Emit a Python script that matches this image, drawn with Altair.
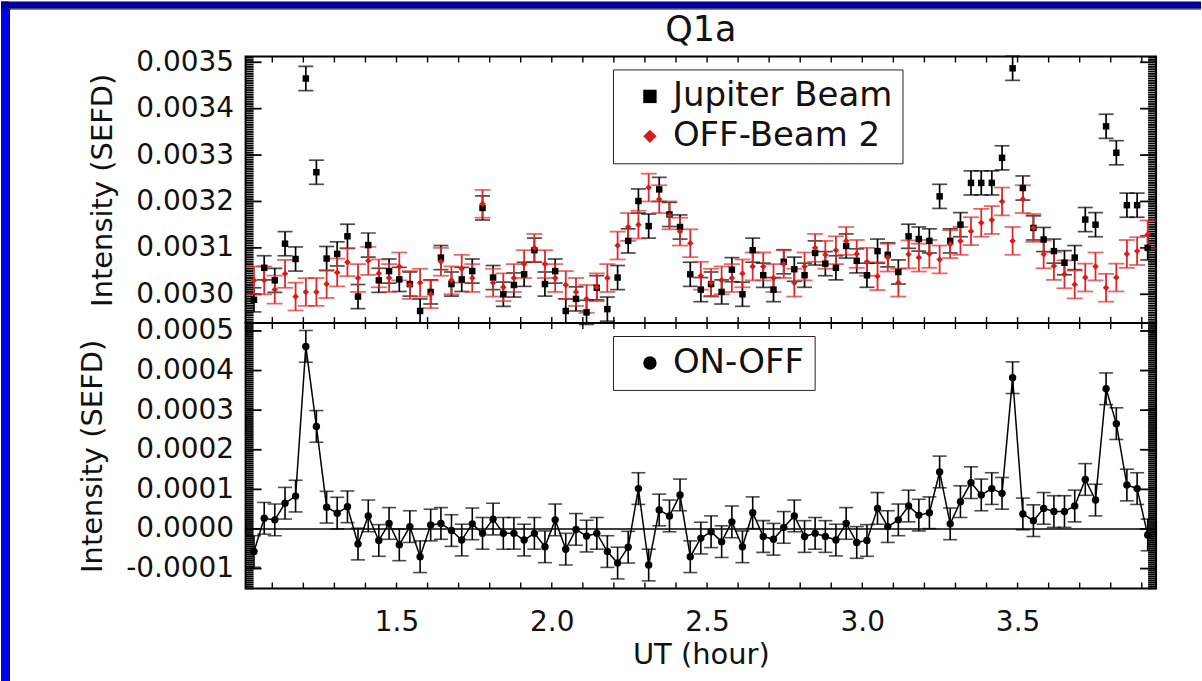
import altair as alt
import pandas as pd

# ---------------- data ----------------
ut_hour = [1.041, 1.074, 1.108, 1.141, 1.175, 1.208, 1.242, 1.275, 1.309, 1.342,
           1.376, 1.409, 1.443, 1.476, 1.509, 1.543, 1.576, 1.610, 1.643, 1.677,
           1.710, 1.744, 1.777, 1.811, 1.844, 1.878, 1.911, 1.944, 1.978, 2.011,
           2.045, 2.078, 2.112, 2.145, 2.179, 2.212, 2.246, 2.279, 2.312, 2.346,
           2.379, 2.413, 2.446, 2.480, 2.513, 2.547, 2.580, 2.614, 2.647, 2.681,
           2.714, 2.747, 2.781, 2.814, 2.848, 2.881, 2.915, 2.948, 2.982, 3.015,
           3.049, 3.082, 3.116, 3.149, 3.182, 3.216, 3.249, 3.283, 3.316, 3.350,
           3.383, 3.417, 3.450, 3.484, 3.517, 3.551, 3.584, 3.617, 3.651, 3.684,
           3.718, 3.751, 3.785, 3.818, 3.852, 3.885, 3.919]

jupiter_beam = [0.002988, 0.003057, 0.003030, 0.003109, 0.003076, 0.003465, 0.003263, 0.003077, 0.003087, 0.003125,
                0.002995, 0.003106, 0.003030, 0.003050, 0.003032, 0.003022, 0.002964, 0.003005, 0.003079, 0.003022,
                0.003032, 0.003050, 0.003186, 0.003036, 0.003000, 0.003020, 0.003043, 0.003095, 0.003022, 0.003050,
                0.002964, 0.002990, 0.002961, 0.003014, 0.002968, 0.003036, 0.003115, 0.003201, 0.003147, 0.003226,
                0.003172, 0.003145, 0.003043, 0.003010, 0.003022, 0.003005, 0.003053, 0.003000, 0.003095, 0.003041,
                0.003010, 0.003070, 0.003054, 0.003041, 0.003089, 0.003066, 0.003057, 0.003104, 0.003072, 0.003041,
                0.003093, 0.003085, 0.003048, 0.003125, 0.003119, 0.003115, 0.003211, 0.003115, 0.003150, 0.003240,
                0.003240, 0.003240, 0.003294, 0.003487, 0.003229, 0.003143, 0.003118, 0.003093, 0.003068, 0.003079,
                0.003161, 0.003150, 0.003362, 0.003305, 0.003192, 0.003192, 0.003100]

off_beam2 = [0.003030, 0.003030, 0.003010, 0.003044, 0.002995, 0.003005, 0.003005, 0.003022, 0.003047, 0.003069,
             0.003035, 0.003072, 0.003045, 0.003035, 0.003060, 0.003020, 0.003025, 0.003000, 0.003070, 0.003030,
             0.003055, 0.003035, 0.003195, 0.003025, 0.003015, 0.003035, 0.003065, 0.003100, 0.003065, 0.003035,
             0.003020, 0.003005, 0.002990, 0.003015, 0.003035, 0.003105, 0.003145, 0.003150, 0.003230, 0.003205,
             0.003170, 0.003135, 0.003110, 0.003040, 0.003025, 0.003030, 0.003035, 0.003045, 0.003060, 0.003060,
             0.003035, 0.003065, 0.003025, 0.003060, 0.003100, 0.003085, 0.003095, 0.003115, 0.003087, 0.003070,
             0.003039, 0.003079, 0.003025, 0.003086, 0.003079, 0.003087, 0.003075, 0.003108, 0.003115, 0.003136,
             0.003154, 0.003160, 0.003200, 0.003115, 0.003205, 0.003143, 0.003086, 0.003061, 0.003043, 0.003021,
             0.003036, 0.003060, 0.003014, 0.003036, 0.003087, 0.003093, 0.003129]

on_off = [-0.000057, 0.000027, 0.000023, 0.000065, 0.000083, 0.000461, 0.000259, 0.000055, 0.000040, 0.000056,
          -0.000038, 0.000033, -0.000029, 0.000014, -0.000040, 0.000006, -0.000070, 0.000010, 0.000014, -0.000004,
          -0.000028, 0.000013, -0.000011, 0.000025, -0.000011, -0.000011, -0.000028, -0.000011, -0.000045, 0.000023,
          -0.000051, -0.000001, -0.000018, -0.000011, -0.000057, -0.000086, -0.000046, 0.000102, -0.000091, 0.000048,
          0.000033, 0.000086, -0.000070, -0.000023, -0.000007, -0.000032, 0.000018, -0.000045, 0.000041, -0.000019,
          -0.000026, 0.000004, 0.000033, -0.000019, -0.000011, -0.000019, -0.000028, 0.000014, -0.000034, -0.000029,
          0.000052, 0.000006, 0.000023, 0.000058, 0.000035, 0.000041, 0.000144, 0.000013, 0.000069, 0.000117,
          0.000086, 0.000102, 0.000090, 0.000382, 0.000038, 0.000021, 0.000052, 0.000044, 0.000044, 0.000058,
          0.000125, 0.000073, 0.000354, 0.000266, 0.000111, 0.000102, -0.000015]

jupiter_err = 0.000026
off_err = 0.000030
on_off_err = 0.000040

series_names = ["Jupiter Beam", "OFF-Beam 2"]
diff_name = ["ON-OFF"]
chart_title = ["Q1a"]

y_top_ticks = [0.0030, 0.0031, 0.0032, 0.0033, 0.0034, 0.0035]
y_bot_ticks = [-0.0001, 0.0, 0.0001, 0.0002, 0.0003, 0.0004, 0.0005]
x_ticks = [1.5, 2.0, 2.5, 3.0, 3.5]
x_minor_ticks = [1.1, 1.2, 1.3, 1.4, 1.5, 1.6, 1.7, 1.8, 1.9, 2.0, 2.1, 2.2, 2.3, 2.4,
                 2.5, 2.6, 2.7, 2.8, 2.9, 3.0, 3.1, 3.2, 3.3, 3.4, 3.5, 3.6, 3.7, 3.8, 3.9]
y_top_minor = [round(0.002940 + 0.000005 * i, 7) for i in range(115)]
y_bot_minor = [round(-0.000150 + 0.000005 * i, 7) for i in range(135)]

# ---------------- layout / style ----------------
W = 912
H_TOP = 267
H_BOT = 266
FONT = "DejaVu Sans"
INK = "#111111"
RED = "#d81c1c"
RED_BAR = "#e02828"
FRAME_LEFT = "#0000e8"
FRAME_TOP = "#00009a"
FRAME_EDGE = "#000040"

x_scale = alt.Scale(domain=[1.014, 3.946], nice=False, zero=False)
top_scale = alt.Scale(domain=[0.002938, 0.0035125], nice=False, zero=False)
bot_scale = alt.Scale(domain=[-0.0001505, 0.00052], nice=False, zero=False)

minus_fix = "replace(datum.label, '\u2212', '-')"

y_title = "Intensity (SEFD)"
x_title = "UT (hour)"

top_y_axis = alt.Axis(values=y_top_ticks, format=".4f", labelExpr=minus_fix,
                      ticks=False, domain=False, grid=False, labelPadding=12, titlePadding=18)
bot_y_axis = alt.Axis(values=y_bot_ticks, format=".4f", labelExpr=minus_fix,
                      ticks=False, domain=False, grid=False, labelPadding=12, titlePadding=18)
bot_x_axis = alt.Axis(values=x_ticks, format=".1f", ticks=False, domain=False, grid=False,
                      labelPadding=20, titlePadding=4)

PANELS = {
    "top": dict(yscale=top_scale, yaxis=top_y_axis, xaxis=None, H=H_TOP),
    "bot": dict(yscale=bot_scale, yaxis=bot_y_axis, xaxis=bot_x_axis, H=H_BOT),
}


def XE(panel, field="t:Q"):
    p = PANELS[panel]
    return alt.X(field, scale=x_scale, axis=p["xaxis"], title=x_title)


def YE(panel, field):
    p = PANELS[panel]
    return alt.Y(field, scale=p["yscale"], axis=p["yaxis"], title=y_title)


jup_df = pd.DataFrame({"t": ut_hour, "v": jupiter_beam})
jup_df["lo"] = jup_df["v"] - jupiter_err
jup_df["hi"] = jup_df["v"] + jupiter_err
jup_df["series"] = series_names[0]

off_df = pd.DataFrame({"t": ut_hour, "v": off_beam2})
off_df["lo"] = off_df["v"] - off_err
off_df["hi"] = off_df["v"] + off_err
off_df["series"] = series_names[1]

pts_df = pd.concat([jup_df, off_df], ignore_index=True)

diff_df = pd.DataFrame({"t": ut_hour, "v": on_off})
diff_df["lo"] = diff_df["v"] - on_off_err
diff_df["hi"] = diff_df["v"] + on_off_err
diff_df["series"] = diff_name[0]


def ticks_layers(panel, y_minor, y_major):
    H = PANELS[panel]["H"]
    mn = pd.DataFrame({"v": y_minor})
    mj = pd.DataFrame({"v": y_major})
    xm = pd.DataFrame({"t": x_minor_ticks})
    out = []
    out.append(alt.Chart(mn).mark_rule(color="black", strokeWidth=1.8).encode(
        y=YE(panel, "v:Q"), x=alt.value(0), x2=alt.value(8)))
    out.append(alt.Chart(mn).mark_rule(color="black", strokeWidth=1.8).encode(
        y=YE(panel, "v:Q"), x=alt.value(W - 8), x2=alt.value(W)))
    out.append(alt.Chart(mj).mark_rule(color="black", strokeWidth=1.8).encode(
        y=YE(panel, "v:Q"), x=alt.value(0), x2=alt.value(16)))
    out.append(alt.Chart(mj).mark_rule(color="black", strokeWidth=1.8).encode(
        y=YE(panel, "v:Q"), x=alt.value(W - 16), x2=alt.value(W)))
    out.append(alt.Chart(xm).mark_rule(color="black", strokeWidth=1.4).encode(
        x=XE(panel), y=alt.value(0), y2=alt.value(6)))
    out.append(alt.Chart(xm).mark_rule(color="black", strokeWidth=1.4).encode(
        x=XE(panel), y=alt.value(H - 6), y2=alt.value(H)))
    return out


def error_layers(panel, df, color, cap, width):
    bars = alt.Chart(df).mark_rule(color=color, strokeWidth=width).encode(
        x=XE(panel), y=YE(panel, "lo:Q"), y2="hi:Q")
    lo = alt.Chart(df).mark_tick(color=color, thickness=width, size=cap, orient="horizontal").encode(
        x=XE(panel), y=YE(panel, "lo:Q"))
    hi = alt.Chart(df).mark_tick(color=color, thickness=width, size=cap, orient="horizontal").encode(
        x=XE(panel), y=YE(panel, "hi:Q"))
    return [bars, lo, hi]


one_row = pd.DataFrame({"k": [0]})
frame_left = alt.Chart(one_row).mark_rect(color=FRAME_LEFT).encode(
    x=alt.value(-245), x2=alt.value(-237), y=alt.value(-55), y2=alt.value(681 - 55))
frame_left_edge = alt.Chart(one_row).mark_rect(color=FRAME_EDGE).encode(
    x=alt.value(-237), x2=alt.value(-236), y=alt.value(-48), y2=alt.value(681 - 55))
frame_top = alt.Chart(one_row).mark_rect(color=FRAME_TOP).encode(
    x=alt.value(-245), x2=alt.value(1202 - 245), y=alt.value(-55), y2=alt.value(-48))
frame_top_edge = alt.Chart(one_row).mark_rect(color=FRAME_EDGE).encode(
    x=alt.value(-237), x2=alt.value(1202 - 245), y=alt.value(-48), y2=alt.value(-47))

title_df = pd.DataFrame({"label": chart_title})
title_mark = alt.Chart(title_df).mark_text(
    font=FONT, fontSize=35, color=INK, align="center", baseline="alphabetic"
).encode(text="label:N", x=alt.value(W / 2), y=alt.value(-15))

legend_common = dict(
    orient="none", legendX=368, legendY=13, title=None,
    strokeColor="#222222", fillColor="white", padding=10,
    labelFont=FONT, labelFontSize=34, labelColor=INK, labelLimit=500,
    symbolSize=180, symbolOffset=10, labelOffset=6, rowPadding=6,
    symbolStrokeWidth=0,
)

top_points = alt.Chart(pts_df).mark_point(filled=True, opacity=1, size=42).encode(
    x=XE("top"),
    y=YE("top", "v:Q"),
    color=alt.Color("series:N", scale=alt.Scale(domain=series_names, range=["black", RED]),
                    legend=alt.Legend(**legend_common)),
    shape=alt.Shape("series:N", scale=alt.Scale(domain=series_names, range=["square", "diamond"]),
                    legend=alt.Legend(**legend_common)),
)

top = alt.layer(
    frame_left, frame_top, frame_left_edge, frame_top_edge, title_mark,
    *ticks_layers("top", y_top_minor, y_top_ticks),
    *error_layers("top", jup_df, "black", 15, 1.7),
    *error_layers("top", off_df, RED_BAR, 16, 1.8),
    top_points,
).properties(width=W, height=H_TOP)

zero_line = alt.Chart(one_row).transform_calculate(z="0").mark_rule(
    color="black", strokeWidth=1.6).encode(y=YE("bot", "z:Q"))

diff_line = alt.Chart(diff_df).mark_line(color="black", strokeWidth=1.5).encode(
    x=XE("bot"), y=YE("bot", "v:Q"))

diff_points = alt.Chart(diff_df).mark_point(filled=True, opacity=1, size=55, shape="circle").encode(
    x=XE("bot"),
    y=YE("bot", "v:Q"),
    color=alt.Color("series:N", scale=alt.Scale(domain=diff_name, range=["black"]),
                    legend=alt.Legend(**legend_common)),
)

bottom = alt.layer(
    *ticks_layers("bot", y_bot_minor, y_bot_ticks),
    zero_line,
    *error_layers("bot", diff_df, "black", 14, 1.6),
    diff_line,
    diff_points,
).properties(width=W, height=H_BOT)

chart = alt.vconcat(top, bottom, spacing=0, bounds="flush").resolve_scale(
    color="independent", shape="independent"
).resolve_legend(
    color="independent", shape="independent"
).properties(
    padding={"left": 0, "top": 0, "right": 0, "bottom": 0},
    background="white",
).configure_view(
    stroke="black", strokeWidth=2
).configure_axis(
    labelFont=FONT, titleFont=FONT, labelFontSize=28, titleFontSize=29,
    titleFontWeight="normal", labelColor=INK, titleColor=INK,
)

chart.save("out.html", embed_options={"renderer": "svg", "actions": False})
